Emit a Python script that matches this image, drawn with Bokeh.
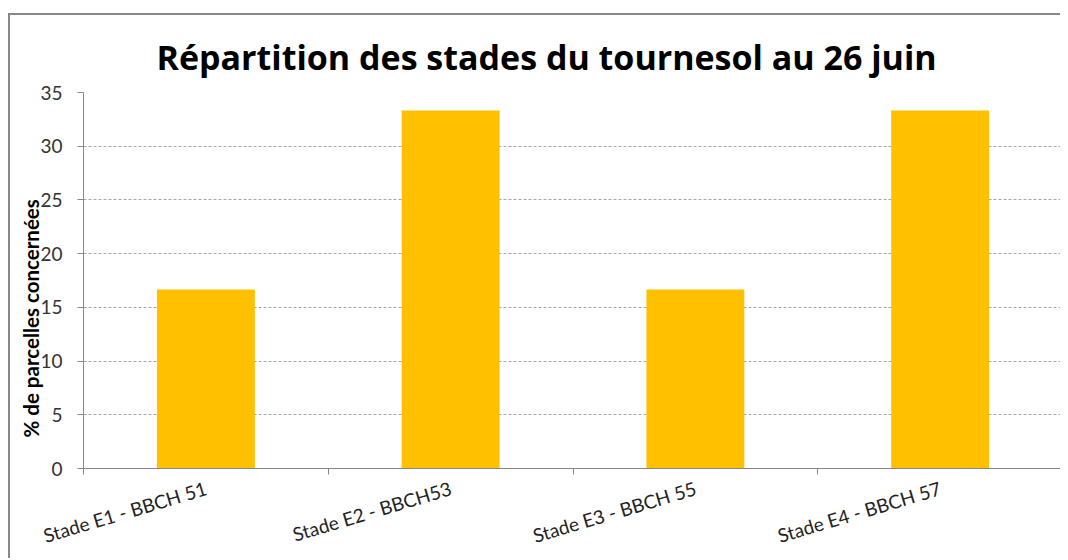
from bokeh.plotting import figure
from bokeh.models import (Range1d, LinearAxis, FixedTicker, Grid, ColumnDataSource, Title)
from bokeh.embed import file_html
from bokeh.resources import INLINE

categories = ["Stade E1 - BBCH 51", "Stade E2 - BBCH53",
              "Stade E3 - BBCH 55", "Stade E4 - BBCH 57"]
values = [16.67, 33.33, 16.67, 33.33]
y_ticks = [0, 5, 10, 15, 20, 25, 30, 35]

FONT = "Lato"
n = len(categories)
centers = [i + 0.5 for i in range(n)]
boundaries = list(range(n + 1))
source = ColumnDataSource(dict(x=centers, cat=categories, val=values))

p = figure(width=1052, height=545,
           x_range=Range1d(0, n), y_range=Range1d(0, 35),
           output_backend="svg", toolbar_location=None,
           x_axis_location=None, y_axis_location=None,
           min_border_left=73, min_border_right=0,
           min_border_top=77, min_border_bottom=91)
p.styles = {"border-top": "2px solid #878787", "border-left": "2px solid #878787",
            "margin-top": "13px", "margin-left": "8px"}
p.outline_line_color = None
p.background_fill_color = "white"
p.border_fill_color = "white"
for g in p.grid:
    g.visible = False

p.title.text = "Répartition des stades du tournesol au 26 juin"
p.title.text_font = "Open Sans"
p.title.text_font_style = "bold"
p.title.text_font_size = "34px"
p.title.text_color = "black"
p.title.align = "left"
p.title.offset = 73
p.title.standoff = 25

p.vbar(x="x", top="val", width=0.4, source=source,
       fill_color="#FFC000", line_color=None)

# y axis
yaxis = LinearAxis(ticker=FixedTicker(ticks=y_ticks))
yaxis.major_label_text_font = FONT
yaxis.major_label_text_font_size = "19px"
yaxis.major_label_text_color = "#333333"
yaxis.major_label_standoff = 15
yaxis.axis_line_color = "#868686"
yaxis.major_tick_line_color = "#868686"
yaxis.major_tick_out = 6
yaxis.major_tick_in = 0
yaxis.minor_tick_line_color = None
p.add_layout(yaxis, "left")

ylabel = Title(text="% de parcelles concernées", align="left", offset=31,
               standoff=-10, text_font=FONT, text_font_style="bold",
               text_font_size="20.5px", text_color="black")
p.add_layout(ylabel, "left")

grid = Grid(dimension=1, ticker=yaxis.ticker, grid_line_color="#a6a6a6",
            grid_line_dash="3 2", grid_line_width=1)
p.add_layout(grid)

# boundary ticks axis
baxis = LinearAxis(ticker=FixedTicker(ticks=boundaries),
                   major_label_overrides={t: "" for t in boundaries})
baxis.major_label_text_font_size = "0px"
baxis.axis_line_color = "#868686"
baxis.major_tick_line_color = "#868686"
baxis.major_tick_out = 6
baxis.major_tick_in = 0
baxis.minor_tick_line_color = None
baxis.major_label_standoff = 0
p.add_layout(baxis, "below")

# category labels axis
xaxis = LinearAxis(ticker=FixedTicker(ticks=centers),
                   major_label_overrides={c: cat for c, cat in zip(centers, categories)})
xaxis.axis_line_color = None
xaxis.major_tick_line_color = None
xaxis.minor_tick_line_color = None
xaxis.major_label_orientation = 0.29
xaxis.major_label_text_font = FONT
xaxis.major_label_text_font_size = "19px"
xaxis.major_label_text_color = "#222222"
xaxis.major_label_standoff = 7
p.add_layout(xaxis, "below")

open("out.html", "w").write(file_html(p, INLINE))
